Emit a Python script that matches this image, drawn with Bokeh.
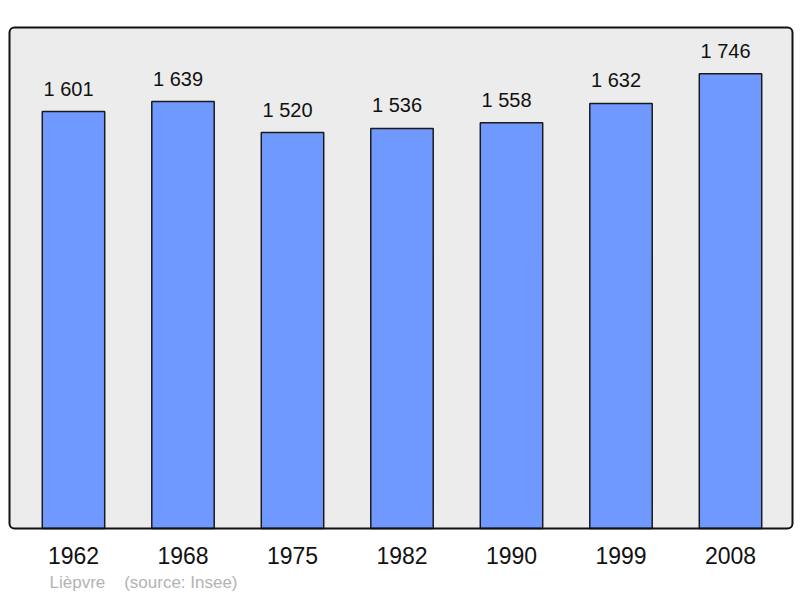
from bokeh.plotting import figure
from bokeh.models import (BoxAnnotation, FixedTicker, Range1d, Title, ColumnDataSource)
from bokeh.core.properties import value
from bokeh.embed import file_html
from bokeh.resources import INLINE

years = ["1962", "1968", "1975", "1982", "1990", "1999", "2008"]
population = [1601, 1639, 1520, 1536, 1558, 1632, 1746]
value_labels = ["1 601", "1 639", "1 520", "1 536", "1 558", "1 632", "1 746"]
source_text = "Lièpvre\u00a0\u00a0\u00a0\u00a0(source: Insee)"

# geometry (pixels)
FRAME_W, FRAME_H = 798, 535
PX_PER_CAT = 109.5
FIRST_CENTER = 73.0          # px from frame left
ZERO_Y = 528.0               # px from frame top to value 0
PX_PER_UNIT = 417.0 / 1601.0
BOX_LEFT, BOX_RIGHT, BOX_TOP = 9.0, 792.0, 27.0

x_start = -FIRST_CENTER / PX_PER_CAT
x_end = x_start + FRAME_W / PX_PER_CAT
y_end = ZERO_Y / PX_PER_UNIT
y_start = -(FRAME_H - ZERO_Y) / PX_PER_UNIT

idx = list(range(len(years)))
src = ColumnDataSource(dict(x=idx, top=population, label=value_labels))

p = figure(frame_width=FRAME_W, frame_height=FRAME_H, output_backend="svg",
           toolbar_location=None, min_border_left=0, min_border_right=0,
           min_border_top=0, min_border_bottom=0,
           x_range=Range1d(x_start, x_end), y_range=Range1d(y_start, y_end),
           background_fill_color="white", border_fill_color="white")
p.outline_line_color = None
p.grid.visible = False
p.yaxis.visible = False

box_l = x_start + BOX_LEFT / PX_PER_CAT
box_r = x_start + BOX_RIGHT / PX_PER_CAT
box_t = (ZERO_Y - BOX_TOP) / PX_PER_UNIT
p.add_layout(BoxAnnotation(left=box_l, right=box_r, bottom=0, top=box_t,
                           fill_color="#ececec", fill_alpha=1, line_color=None,
                           border_radius=5, level="underlay"))

p.vbar(x="x", top="top", bottom=0, width=0.57, source=src,
       fill_color="#7099ff", line_color="#1a1a1a", line_width=1.5)

p.text(x="x", y="top", text="label", source=src, text_align="center",
       text_baseline="alphabetic", x_offset=-5, y_offset=-23,
       text_font_size="20px",
       text_font=value("Liberation Sans"), text_color="#111111")

p.add_layout(BoxAnnotation(left=box_l, right=box_r, bottom=0, top=box_t,
                           fill_alpha=0, line_color="#111111", line_alpha=1,
                           line_width=2, border_radius=5, level="overlay"))

ax = p.xaxis[0]
ax.ticker = FixedTicker(ticks=idx)
ax.major_label_overrides = {i: y for i, y in zip(idx, years)}
ax.axis_line_color = None
ax.major_tick_line_color = None
ax.minor_tick_line_color = None
ax.major_tick_out = 0
ax.major_tick_in = 0
ax.major_label_standoff = 11
ax.major_label_text_font_size = "23px"
ax.major_label_text_font = "Liberation Sans"
ax.major_label_text_color = "#111111"

p.add_layout(Title(text=source_text, align="left", offset=49,
                   text_font_size="17px", text_font_style="normal",
                   text_font="Liberation Sans", text_color="#b3b3b3",
                   standoff=9), "below")

open("out.html", "w").write(file_html(p, INLINE))
